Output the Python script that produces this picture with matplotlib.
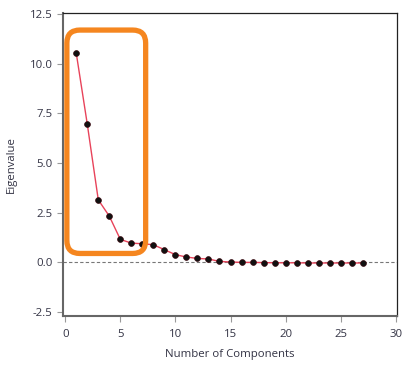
import numpy as np
import matplotlib.pyplot as plt
from matplotlib.patches import FancyBboxPatch
from matplotlib.transforms import IdentityTransform

plt.rcParams['font.family'] = ['Open Sans', 'DejaVu Sans']

# eigenvalues per component
components = list(range(1, 28))
eigenvalues = [10.54, 6.97, 3.15, 2.33, 1.16, 0.97, 0.94, 0.89, 0.64, 0.39,
               0.27, 0.20, 0.17, 0.05, 0.02, 0.0, 0.0, -0.01, -0.02, -0.02,
               -0.02, -0.03, -0.03, -0.03, -0.03, -0.03, -0.03]
xticks = [0, 5, 10, 15, 20, 25, 30]
yticks = [-2.5, 0.0, 2.5, 5.0, 7.5, 10.0, 12.5]
# region highlighted by the orange box (data units)
box_x = (0.15, 7.3)
box_y = (0.45, 11.7)

fig = plt.figure(figsize=(4.05, 3.69), dpi=100)
ax = fig.add_axes([0.1556, 0.1436, 0.8244, 0.8212])

ax.axhline(0, color='#777777', lw=0.8, ls=(0, (3, 2)), zorder=1)
ax.plot(components, eigenvalues, color='#e8435a', lw=1.0, zorder=2)
ax.plot(components, eigenvalues, 'o', color='#111111', ms=4.2,
        mec='#3a0a10', mew=0.5, zorder=3)

ax.set_xlim(-0.2, 30.1)
ax.set_ylim(-2.7, 12.56)
ax.set_xticks(xticks)
ax.set_yticks(yticks)
ax.set_yticklabels([f'{v:.1f}' for v in yticks])
ax.tick_params(labelsize=8.2, labelcolor='#333344', color='#999999',
               length=4, width=0.8)
ax.tick_params(axis='x', pad=5)

for s in ['top', 'right']:
    ax.spines[s].set_color('#222222')
    ax.spines[s].set_linewidth(0.9)
for s in ['left', 'bottom']:
    ax.spines[s].set_color('#666666')
    ax.spines[s].set_linewidth(1.5)

ax.set_xlabel('Number of Components', fontsize=8.2, color='#333344', labelpad=7)
ax.set_ylabel('Eigenvalue', fontsize=8.2, color='#333344', labelpad=9)

# rounded orange highlight box, drawn in pixel space so corners stay round
fig.canvas.draw()
(x0, y0) = ax.transData.transform((box_x[0], box_y[0]))
(x1, y1) = ax.transData.transform((box_x[1], box_y[1]))
box = FancyBboxPatch((x0, y0), x1 - x0, y1 - y0,
                     boxstyle='round,pad=0,rounding_size=13',
                     transform=IdentityTransform(), fill=False,
                     ec='#f5861f', lw=3.8, zorder=5, clip_on=False)
fig.patches.append(box)

fig.savefig('out.png', dpi=100)
